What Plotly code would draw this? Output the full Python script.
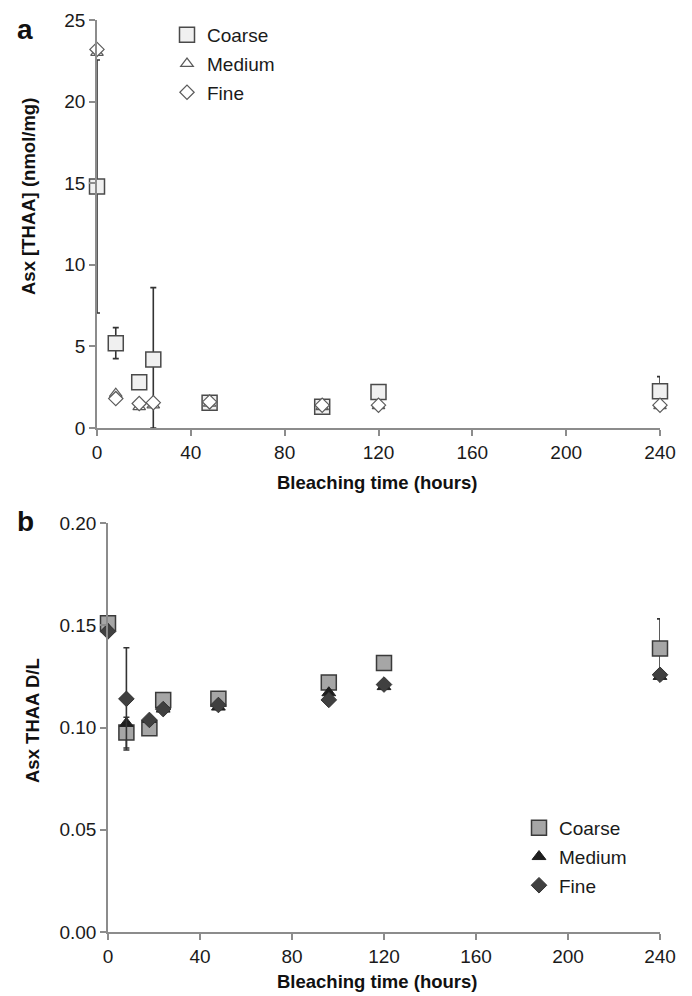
import plotly.graph_objects as go
import numpy as np

hours = [0, 8, 18, 24, 48, 96, 120, 240]

coarse_conc = [14.8, 5.2, 2.8, 4.2, 1.55, 1.3, 2.2, 2.25]
coarse_conc_err = [7.75, 0.95, 0, 4.4, 0, 0, 0, 0.9]
medium_conc = [23.0, 2.1, 1.3, 1.4, 1.5, 1.3, 1.35, 1.35]
fine_conc = [23.2, 1.8, 1.5, 1.55, 1.6, 1.4, 1.4, 1.4]

coarse_dl = [0.151, 0.0975, 0.0996, 0.1135, 0.114, 0.122, 0.1316, 0.1386]
coarse_dl_err = [0, 0.0075, 0, 0, 0, 0, 0, 0.0145]
medium_dl = [0.148, 0.102, 0.104, 0.109, 0.110, 0.117, 0.120, 0.125]
fine_dl = [0.147, 0.114, 0.1037, 0.109, 0.111, 0.1135, 0.121, 0.1258]
fine_dl_err = [0, 0.025, 0, 0, 0, 0, 0, 0]

x_ticks = [0, 40, 80, 120, 160, 200, 240]

W, H = 692, 996
FONT = "Liberation Sans, Arial, sans-serif"
ERR = "#333333"

fig = go.Figure()

# clip lower error at zero (axis boundary)
c_minus = list(np.minimum(coarse_conc_err, coarse_conc))

fig.add_trace(go.Scatter(
    x=hours, y=coarse_conc, mode="markers", name="Coarse", legendgroup="a1",
    marker=dict(symbol="square", size=15, color="#f0f0f0",
                line=dict(color="#4a4a4a", width=1.5)),
    error_y=dict(type="data", array=coarse_conc_err, arrayminus=c_minus,
                 symmetric=False, color=ERR, thickness=1.6, width=3),
    xaxis="x", yaxis="y", legend="legend", cliponaxis=False))
fig.add_trace(go.Scatter(
    x=hours, y=medium_conc, mode="markers", name="Medium", legendgroup="a2",
    marker=dict(symbol="triangle-up", size=11, color="#ffffff",
                line=dict(color="#5a5a5a", width=1.2)),
    xaxis="x", yaxis="y", legend="legend", cliponaxis=False))
fig.add_trace(go.Scatter(
    x=hours, y=fine_conc, mode="markers", name="Fine", legendgroup="a3",
    marker=dict(symbol="diamond", size=11, color="#ffffff",
                line=dict(color="#5a5a5a", width=1.2)),
    xaxis="x", yaxis="y", legend="legend", cliponaxis=False))

fig.add_trace(go.Scatter(
    x=hours, y=coarse_dl, mode="markers", name="Coarse", legendgroup="b1",
    marker=dict(symbol="square", size=15, color="#a6a6a6",
                line=dict(color="#3a3a3a", width=1.5)),
    error_y=dict(type="data", array=coarse_dl_err, color=ERR, thickness=1.6, width=3),
    xaxis="x2", yaxis="y2", legend="legend2", cliponaxis=False))
fig.add_trace(go.Scatter(
    x=hours, y=medium_dl, mode="markers", name="Medium", legendgroup="b2",
    marker=dict(symbol="triangle-up", size=12, color="#1e1e1e",
                line=dict(color="#1e1e1e", width=1)),
    xaxis="x2", yaxis="y2", legend="legend2", cliponaxis=False))
fig.add_trace(go.Scatter(
    x=hours, y=fine_dl, mode="markers", name="Fine", legendgroup="b3",
    marker=dict(symbol="diamond", size=12, color="#404040",
                line=dict(color="#333333", width=1)),
    error_y=dict(type="data", array=fine_dl_err, color=ERR, thickness=1.6, width=3),
    xaxis="x2", yaxis="y2", legend="legend2", cliponaxis=False))

def px_x(p):
    return p / W

def px_y(p):
    return 1 - p / H

axis_common = dict(showline=True, linecolor="#8c8c8c", linewidth=1.5,
                   ticks="outside", ticklen=6, tickcolor="#8c8c8c", tickwidth=1.5,
                   showgrid=False, zeroline=False,
                   tickfont=dict(family=FONT, size=19, color="#1a1a1a"))

def ann(text, x, y, size, angle=0):
    return dict(text=text, x=px_x(x), y=px_y(y), xref="paper", yref="paper",
                xanchor="center", yanchor="middle", showarrow=False,
                textangle=angle, font=dict(family=FONT, size=size, color="#111"))

fig.update_layout(
    width=W, height=H, margin=dict(l=0, r=0, t=0, b=0, autoexpand=False),
    paper_bgcolor="white", plot_bgcolor="white",
    font=dict(family=FONT, color="#1a1a1a"),
    xaxis=dict(domain=[px_x(97), px_x(660)], range=[0, 240], tickvals=x_ticks,
               anchor="y", **axis_common),
    yaxis=dict(domain=[px_y(428), px_y(20)], range=[0, 25], dtick=5,
               anchor="x", **axis_common),
    xaxis2=dict(domain=[px_x(108), px_x(660)], range=[0, 240], tickvals=x_ticks,
                anchor="y2", **axis_common),
    yaxis2=dict(domain=[px_y(932), px_y(523)], range=[0, 0.2], dtick=0.05,
                tickformat=".2f", anchor="x2", **axis_common),
    legend=dict(x=px_x(167), y=px_y(16), xanchor="left", yanchor="top",
                bgcolor="rgba(0,0,0,0)", font=dict(family=FONT, size=19),
                tracegroupgap=1, itemwidth=30),
    legend2=dict(x=px_x(519), y=px_y(809), xanchor="left", yanchor="top",
                 bgcolor="rgba(0,0,0,0)", font=dict(family=FONT, size=19),
                 tracegroupgap=1, itemwidth=30),
    annotations=[
        ann("<b>a</b>", 25, 29, 28),
        ann("<b>b</b>", 25, 521, 28),
        ann("<b>Asx [THAA] (nmol/mg)</b>", 28, 197, 18.5, -90),
        ann("<b>Asx THAA D/L</b>", 32, 721, 18.5, -90),
        ann("<b>Bleaching time (hours)</b>", 377, 482, 18.5),
        ann("<b>Bleaching time (hours)</b>", 377, 981, 18.5),
    ],
)

fig.write_html(
    "out.html",
    config={"displayModeBar": False},
    post_script="document.body.style.margin='0';document.body.style.padding='0';"
                "document.body.style.overflow='hidden';",
)
